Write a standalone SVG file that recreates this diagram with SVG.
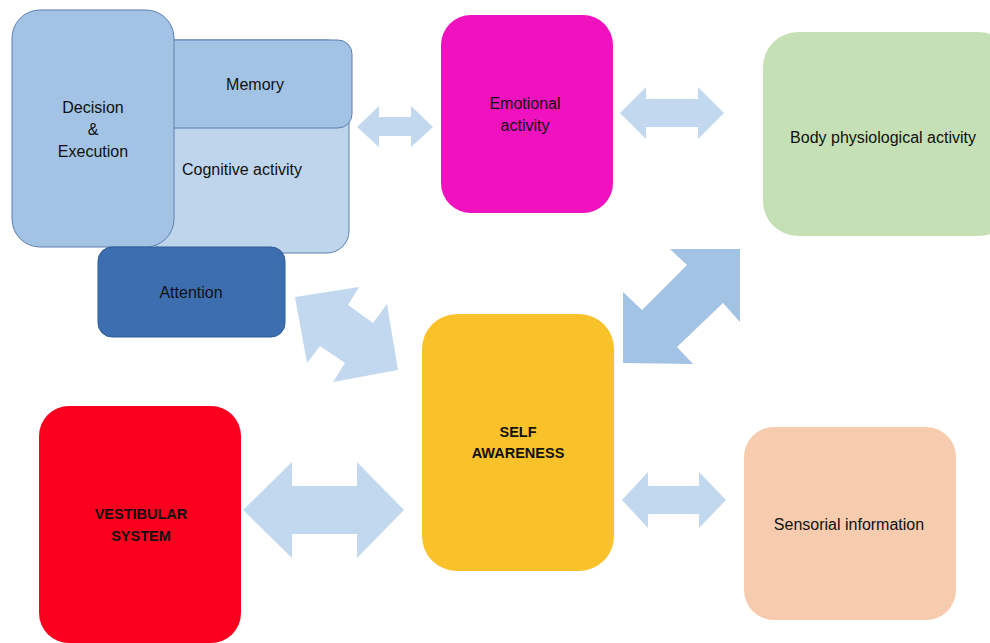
<svg xmlns="http://www.w3.org/2000/svg" width="990" height="643" viewBox="0 0 990 643">
<style>
.t{font-family:"Liberation Sans",Arial,sans-serif;font-size:16px;fill:#111;text-anchor:middle}
.b{font-weight:bold;font-size:14.5px}
.lb{stroke:#5b7fb0;stroke-width:1}
.arr{fill:#c2d8ee}
.arr2{fill:#a3c3e4}
</style>
<rect width="990" height="643" fill="#fff"/>
<g id="cognitive">
<rect class="lb" x="150" y="40" width="199" height="213" rx="22" fill="#bfd5ec"/>
<text class="t" x="242" y="175">Cognitive activity</text>
</g>
<g id="memory">
<rect class="lb" x="150" y="40" width="202" height="88" rx="14" fill="#a3c3e4"/>
<text class="t" x="255" y="90">Memory</text>
</g>
<g id="decision">
<rect class="lb" x="12" y="10" width="162" height="237" rx="28" fill="#a3c3e4"/>
<text class="t" x="93" y="113">Decision</text>
<text class="t" x="93" y="135">&amp;</text>
<text class="t" x="93" y="157">Execution</text>
</g>
<g id="attention">
<rect x="98" y="247" width="187" height="90" rx="14" fill="#3d6fb0" stroke="#2f5c96"/>
<text class="t" x="191" y="298">Attention</text>
</g>
<g id="emotional">
<rect x="441" y="15" width="172" height="198" rx="30" fill="#f012be"/>
<text class="t" x="525" y="109">Emotional</text>
<text class="t" x="525" y="131">activity</text>
</g>
<g id="body">
<rect x="763" y="32" width="250" height="204" rx="35" fill="#c5e0b4"/>
<text class="t" x="883" y="143">Body physiological activity</text>
</g>
<g id="self">
<rect x="422" y="314" width="192" height="257" rx="35" fill="#f9c22a"/>
<text class="t b" x="518" y="437">SELF</text>
<text class="t b" x="518" y="458">AWARENESS</text>
</g>
<g id="vestibular">
<rect x="39" y="406" width="202" height="237" rx="30" fill="#fa001e"/>
<text class="t b" x="141" y="519">VESTIBULAR</text>
<text class="t b" x="141" y="541">SYSTEM</text>
</g>
<g id="sensorial">
<rect x="744" y="427" width="212" height="193" rx="30" fill="#f7cbae"/>
<text class="t" x="849" y="530">Sensorial information</text>
</g>
<g id="connectors">
<polygon class="arr" points="357,127 379,106 379,117 411,117 411,106 433,127 411,147 411,136 379,136 379,147"/>
<polygon class="arr" points="620,113 646,87 646,99 698,99 698,87 724,113 698,139 698,127 646,127 646,139"/>
<polygon class="arr2" points="623,363 623,292 642,310 687,265 670,249 740,249 740,322 723,303 677,347 693,364"/>
<polygon class="arr" points="295,297 359,287 348,305 373,323 387,304 398,370 333,382 345,363 320,346 307,363"/>
<polygon class="arr" points="243,510 292,462 292,486 357,486 357,462 404,510 357,558 357,534 292,534 292,558"/>
<polygon class="arr" points="622,500 648,472 648,486 699,486 699,472 726,500 699,528 699,514 648,514 648,528"/>
</g>
</svg>
